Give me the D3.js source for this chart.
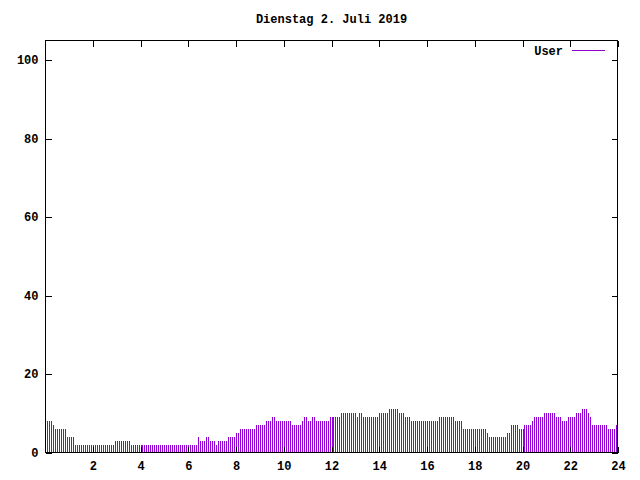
<!DOCTYPE html>
<html>
<head>
<meta charset="utf-8">
<script src="https://cdn.jsdelivr.net/npm/d3@7"></script>
<style>
  html, body { margin: 0; padding: 0; background: #fff; }
  svg text { font-family: "Liberation Mono", "DejaVu Sans Mono", monospace; font-weight: bold; font-size: 12px; fill: #000; }
</style>
</head>
<body>
<script>
// ---- data ----
const title = "Dienstag 2. Juli 2019";
const seriesName = "User";
const seriesColor = "#9400D3";
const sampleStartMinute = 5;    // first sample at 00:05
const sampleStepMinutes = 5;    // one sample every 5 minutes
// user counts, one per 5-minute sample (12 per hour)
const users = [
  8,8,8,7,6,6,6,6,6,6,4,4,
  4,4,2,2,2,2,2,2,2,2,2,2,
  2,2,2,2,2,2,2,2,2,2,3,3,
  3,3,3,3,3,3,2,2,2,2,2,2,
  2,2,2,2,2,2,2,2,2,2,2,2,
  2,2,2,2,2,2,2,2,2,2,2,2,
  2,2,2,2,4,3,3,3,4,4,3,3,
  3,2,3,3,3,3,3,4,4,4,4,5,
  5,6,6,6,6,6,6,6,6,7,7,7,
  7,7,8,8,8,9,9,8,8,8,8,8,
  8,8,8,7,7,7,7,7,8,9,9,8,
  8,9,9,8,8,8,8,8,8,8,9,9,
  9,9,9,9,10,10,10,10,10,10,10,10,
  9,10,10,9,9,9,9,9,9,9,9,10,
  10,10,10,10,11,11,11,11,11,10,10,10,
  9,9,9,8,8,8,8,8,8,8,8,8,
  8,8,8,8,8,9,9,9,9,9,9,9,
  9,8,8,8,8,6,6,6,6,6,6,6,
  6,6,6,6,6,5,4,4,4,4,4,4,
  4,4,4,5,5,7,7,7,7,6,6,6,
  7,7,7,7,8,9,9,9,9,9,10,10,
  10,10,10,10,9,9,9,8,8,8,9,9,
  9,9,10,10,10,11,11,11,10,9,7,7,
  7,7,7,7,7,7,6,6,6,6,7
];
const xDomain = [0, 24];
const yDomain = [0, 105];
const xTickValues = [2,4,6,8,10,12,14,16,18,20,22,24];
const yTickValues = [0,20,40,60,80,100];

// ---- drawing ----
const W = 640, H = 480;
const plot = { left: 45.5, right: 617.5, top: 40.5, bottom: 452.5 };

const svg = d3.select("body").append("svg")
  .attr("width", W).attr("height", H)
  .style("display", "block");

const x = d3.scaleLinear().domain(xDomain).range([45, 618]);
const y = d3.scaleLinear().domain(yDomain).range([plot.bottom, plot.top]);

const points = users.map((v, i) => ({
  hour: (sampleStartMinute + i * sampleStepMinutes) / 60,
  value: v
}));

// impulses
svg.append("g")
  .attr("shape-rendering", "crispEdges")
  .selectAll("line")
  .data(points)
  .join("line")
  .attr("x1", d => Math.round(x(d.hour)) + 0.5)
  .attr("x2", d => Math.round(x(d.hour)) + 0.5)
  .attr("y1", y(0))
  .attr("y2", d => y(d.value))
  .attr("stroke", seriesColor)
  .attr("stroke-width", 1);

// axes
const tickLen = 6;
const styleAxis = g => {
  g.select(".domain").remove();
  g.selectAll(".tick line").attr("stroke", "#000").attr("shape-rendering", "crispEdges");
  g.selectAll("text").attr("font-family", null).attr("font-size", null);
};

svg.append("g").attr("transform", `translate(0,${plot.bottom})`)
  .call(d3.axisBottom(x).tickValues(xTickValues).tickSizeInner(-tickLen).tickSizeOuter(0).tickPadding(9).tickFormat(d3.format("d")))
  .call(styleAxis);
svg.append("g").attr("transform", `translate(0,${plot.top})`)
  .call(d3.axisTop(x).tickValues(xTickValues).tickSizeInner(-tickLen).tickSizeOuter(0).tickFormat(""))
  .call(styleAxis);
svg.append("g").attr("transform", `translate(${plot.left},0)`)
  .call(d3.axisLeft(y).tickValues(yTickValues).tickSizeInner(-tickLen).tickSizeOuter(0).tickPadding(7).tickFormat(d3.format("d")))
  .call(styleAxis);
svg.append("g").attr("transform", `translate(${plot.right},0)`)
  .call(d3.axisRight(y).tickValues(yTickValues).tickSizeInner(-tickLen).tickSizeOuter(0).tickFormat(""))
  .call(styleAxis);

// border
svg.append("rect")
  .attr("x", plot.left).attr("y", plot.top)
  .attr("width", plot.right - plot.left).attr("height", plot.bottom - plot.top)
  .attr("fill", "none").attr("stroke", "#000").attr("stroke-width", 1)
  .attr("shape-rendering", "crispEdges");

// title
svg.append("text")
  .attr("x", (plot.left + plot.right) / 2).attr("y", 19).attr("dy", "0.35em")
  .attr("text-anchor", "middle")
  .text(title);

// legend
svg.append("text")
  .attr("x", 563).attr("y", 51).attr("dy", "0.35em")
  .attr("text-anchor", "end")
  .text(seriesName);
svg.append("line")
  .attr("x1", 572).attr("x2", 605).attr("y1", 50.5).attr("y2", 50.5)
  .attr("stroke", seriesColor).attr("stroke-width", 1)
  .attr("shape-rendering", "crispEdges");
</script>
</body>
</html>
